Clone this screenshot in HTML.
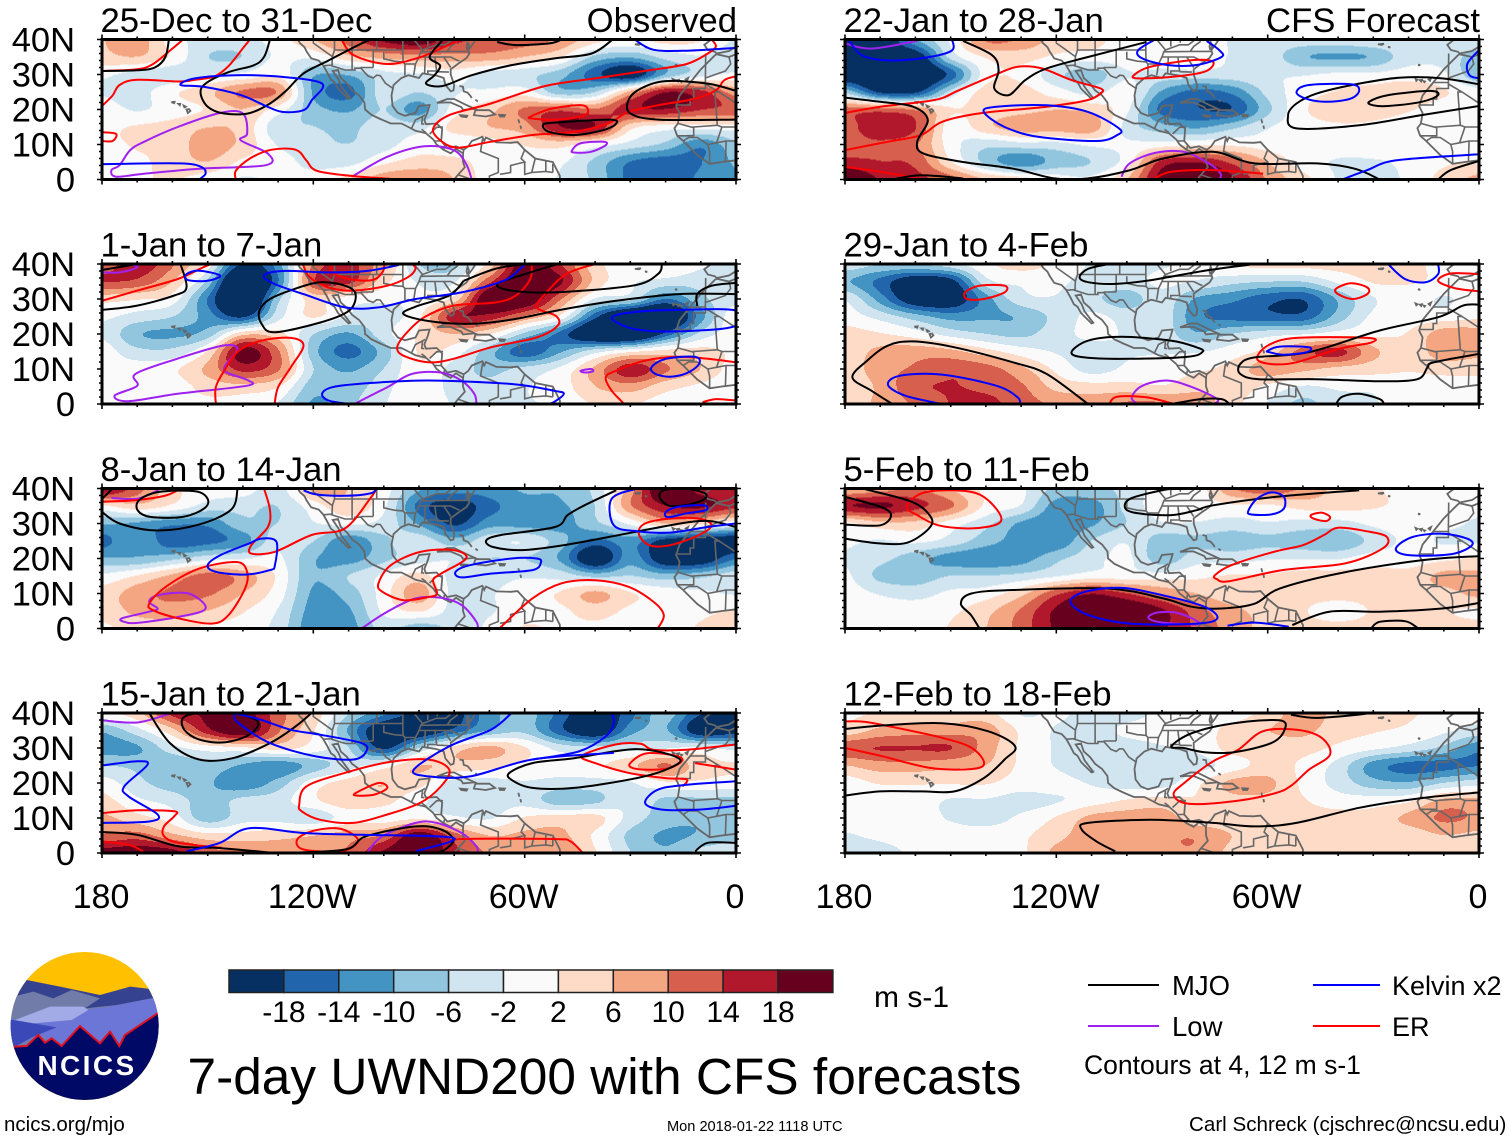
<!DOCTYPE html>
<html lang="en">
<head>
<meta charset="utf-8">
<title>7-day UWND200 with CFS forecasts</title>
<style>
html,body{margin:0;padding:0;background:#fff;}
svg{display:block;font-family:"Liberation Sans",sans-serif;}
</style>
</head>
<body>
<svg id="chart" xmlns="http://www.w3.org/2000/svg" width="1510" height="1141" viewBox="0 0 1510 1141">
  <rect x="0" y="0" width="1510" height="1141" fill="#fff"/>
  <g id="panels"></g>
  <g id="colorbar"></g>
  <text x="874" y="1007" font-size="30">m s-1</text>
  <g>
    <line x1="1088" y1="985" x2="1159" y2="985" stroke="#000" stroke-width="2"/>
    <text x="1172" y="995" font-size="27.5">MJO</text>
    <line x1="1313" y1="985" x2="1380" y2="985" stroke="#0000ff" stroke-width="2"/>
    <text x="1392" y="995" font-size="27">Kelvin x2</text>
    <line x1="1088" y1="1026" x2="1159" y2="1026" stroke="#a020f0" stroke-width="2"/>
    <text x="1172" y="1036" font-size="27.5">Low</text>
    <line x1="1313" y1="1026" x2="1380" y2="1026" stroke="#ff0000" stroke-width="2"/>
    <text x="1392" y="1036" font-size="27">ER</text>
    <text x="1084" y="1074" font-size="26.5">Contours at 4, 12 m s-1</text>
  </g>
  <text x="187.5" y="1094" font-size="51.4">7-day UWND200 with CFS forecasts</text>
  <text x="4" y="1131" font-size="20.5">ncics.org/mjo</text>
  <text x="667" y="1131" font-size="14.6">Mon 2018-01-22 1118 UTC</text>
  <text x="1189" y="1131" font-size="20.6">Carl Schreck (cjschrec@ncsu.edu)</text>
  <g>
    <defs><clipPath id="logoClip"><circle cx="254" cy="258" r="222"/></clipPath></defs>
    <g transform="translate(0,940) scale(0.33333)" clip-path="url(#logoClip)">
      <rect x="20" y="30" width="470" height="460" fill="#ffc000"/>
      <polygon fill="#35428f" points="80,120 180,140 300,165 390,140 480,150 490,320 20,320 45,170"/>
      <polygon fill="#717ca8" points="40,170 100,155 160,175 215,150 300,175 255,205 350,195 480,170 490,330 20,330 25,200"/>
      <polygon fill="#6b76d6" points="25,240 260,210 330,200 480,170 480,215 375,285 360,315 330,275 300,310 240,260 185,315 150,300 120,285 45,320"/>
      <polygon fill="#a3abe6" points="45,240 150,200 250,200 265,210 215,240 100,250"/>
      <polygon fill="#3b48b8" points="25,238 100,250 170,262 100,290 45,320 25,320"/>
      <polygon fill="#000a66" points="42,320 80,318 115,285 135,308 155,295 185,318 240,258 300,310 330,275 358,318 375,285 480,215 490,490 20,490 20,320"/>
      <polyline fill="none" stroke="#e01020" stroke-width="6" points="42,320 80,318 115,285 135,308 155,295 185,318 240,258 300,310 330,275 358,318 375,285 480,215"/>
    </g>
    <text x="87" y="1075" font-size="28" font-weight="bold" fill="#fff" text-anchor="middle" letter-spacing="2.4">NCICS</text>
  </g>
</svg>
<script>
// ---- shared axis data ----
const lonGrid = [180,170,160,150,140,130,120,110,100,90,80,70,60,50,40,30,20,10,0];
const latGrid = [40,35,30,25,20,15,10,5,0];
const xTickValues = [180,120,60,0];
const xTickLabels = ["180","120W","60W","0"];
const yTickValues = [40,30,20,10,0];
const yTickLabels = ["40N","30N","20N","10N","0"];
const bandLevels = [-18,-14,-10,-6,-2,2,6,10,14,18];
const bandColors = ["#053061","#2166ac","#4393c3","#92c5de","#d1e5f0","#fafafa","#fddbc7","#f4a582","#d6604d","#b2182b","#67001f"];

// ---- wind anomaly grids (rows lat 40..0, columns lon 180..0) ----
const wind1 = [
[5,7,0,-3,-3,0,5,10,16,18,13,11,10,8,3,1,3,2,-2],
[4,5,1,-5,-5,-1,-1,4,6,7,7,7,5,2,-6,-8,-4,-2,-4],
[-1,-3,-4,-2,-1,1,-8,-8,-3,-2,0,-3,-4,-7,-14,-19,-8,-3,-1],
[-2,-3,1,4,9,8,-9,-13,-3,-5,-2,-1,0,-7,-5,6,15,13,7],
[0,-2,0,2,5,0,-7,-9,-5,-10,0,4,9,11,9,14,15,12,11],
[1,2,3,5,4,-4,-5,-6,-3,-3,3,5,7,15,15,3,0,0,0],
[1,2,3,7,4,-2,-4,-5,-3,0,-1,0,2,3,0,-3,-6,-11,-6],
[0,1,3,5,1,0,-3,-3,1,3,3,0,0,-1,-6,-12,-14,-12,-8],
[-1,1,2,0,-2,-1,0,3,7,8,5,0,-1,-2,-6,-13,-15,-11,-9]];
const wind2 = [
[10,14,9,0,-16,-10,9,13,6,-5,-6,3,18,12,3,0,2,-1,-4],
[12,11,5,-6,-26,-12,11,13,3,-2,-2,11,20,16,4,-1,-3,-4,-4],
[3,2,0,-12,-26,-6,3,0,-1,-1,3,20,20,9,-2,-4,-12,-6,-3],
[-1,-3,-5,-10,-16,-3,2,-2,-3,1,14,14,8,1,-14,-24,-24,-10,1],
[-2,-8,-9,-7,4,3,-5,-9,-3,2,5,2,-6,-13,-22,-24,-14,-4,0],
[0,-4,-4,2,17,9,-7,-13,-7,2,0,-7,-14,-9,-3,1,3,3,1],
[0,0,1,6,13,9,-5,-9,-5,1,-3,-6,-4,-1,6,14,9,5,0],
[1,0,0,3,4,2,-7,-7,-3,1,-3,-4,-2,0,5,7,3,1,-1],
[1,0,0,1,0,-2,-9,-6,-2,1,-2,-3,-2,-1,2,2,0,0,-1]];
const wind3 = [
[17,10,3,0,0,-3,6,5,0,-8,-10,-10,-8,-8,-4,7,20,14,13],
[1,4,1,-3,-4,-5,0,4,-1,-13,-18,-13,-10,-9,-5,8,15,16,13],
[-8,-9,-11,-11,-6,-5,-2,-1,-3,-9,-16,-10,-10,-10,-6,-1,5,3,-1],
[-13,-9,-14,-13,-10,-3,-5,-11,-6,-3,-7,-3,-2,-7,-13,-10,-17,-19,-19],
[-8,-8,-6,-3,-2,-1,-8,-10,-6,-3,-2,-5,-5,-9,-20,-10,-19,-19,-12],
[-1,2,6,10,7,1,-8,-5,-1,3,-3,-3,-2,-3,-6,-5,-7,-6,-3],
[3,7,9,9,5,0,-9,-7,0,7,-3,-2,0,2,6,2,0,-1,-2],
[3,6,7,5,2,-2,-10,-9,-1,2,-3,-2,0,1,3,1,0,1,2],
[1,3,3,1,0,-3,-11,-10,-4,-7,-4,-1,2,1,1,0,0,2,2]];
const wind4 = [
[1,4,13,16,17,10,4,-5,-11,-17,-17,-10,-7,-13,-20,-13,-7,-15,-17],
[-8,-3,4,14,19,9,2,-9,-20,-20,-14,-8,-6,-14,-20,-10,-8,-19,-17],
[-10,-9,-3,0,1,3,0,-5,-16,-5,3,6,2,-3,-4,-3,-2,-1,-3],
[-5,-6,-8,-6,-9,-11,-7,-3,0,5,4,3,1,0,1,4,9,3,2],
[0,-4,-7,-8,-11,-7,0,3,5,3,-3,-3,-2,-3,-3,-2,1,1,0],
[3,-1,-3,-7,-4,-3,1,4,3,-1,-3,-3,-3,-7,-6,-2,-6,-6,-6],
[6,3,0,-7,-3,-3,-4,0,0,1,-1,-2,2,3,3,-3,-7,-8,-8],
[9,10,6,3,3,4,5,7,9,18,10,5,6,6,1,-6,-9,-8,-6],
[17,18,17,10,9,7,7,9,16,20,13,8,8,8,2,-5,-8,-4,-3]];
const wind5 = [
[-20,-20,-9,-1,9,8,4,3,0,0,0,-2,-3,-3,-3,-2,-2,-2,-3],
[-20,-20,-19,-4,2,3,1,0,0,0,0,-2,-3,-8,-9,-8,-3,-3,-7],
[-20,-22,-22,-14,0,1,-4,-7,-2,-3,-3,-3,-2,-2,-1,-1,0,-1,-8],
[-6,-16,-16,-4,3,3,0,-3,0,-9,-13,-11,-4,0,2,3,4,2,0],
[10,10,8,2,3,4,5,4,-1,-13,-15,-15,-6,1,4,3,2,0,0],
[10,15,12,0,4,7,7,7,-3,-7,-9,-6,-2,0,1,1,0,0,0],
[10,11,9,0,-4,-3,-3,-1,-1,0,1,1,0,0,0,0,-1,-1,-1],
[13,12,11,2,-6,-11,-7,-5,0,13,15,11,5,0,-2,-2,-1,1,2],
[20,15,13,10,5,3,0,-1,5,17,20,16,8,3,-2,-3,-1,3,6]];
const wind6 = [
[-3,-5,-5,-3,1,3,1,-2,-3,-2,-1,2,3,3,3,3,3,0,-2],
[-8,-13,-19,-17,-3,-1,-1,-3,-3,-1,-2,-4,-5,-5,-1,2,2,1,0],
[-2,-10,-19,-19,-10,-3,-2,-4,-7,-3,-9,-11,-14,-15,-8,-2,0,-2,0],
[0,-3,-7,-10,-9,-8,-4,-1,-3,-3,-11,-13,-14,-14,-7,-1,0,0,1],
[3,2,0,-3,-5,-6,-3,-1,-2,-3,-8,-5,-3,-2,0,1,2,7,7],
[3,6,7,6,3,0,-2,-3,-2,-2,-2,0,3,10,13,6,3,7,6],
[3,7,9,11,10,6,1,-3,-1,0,1,3,7,6,4,3,2,3,3],
[2,6,11,12,11,9,4,3,3,2,4,4,1,-2,-1,-1,0,0,0],
[3,6,9,12,13,10,8,7,9,9,7,3,-2,-6,-3,-2,0,0,0]];
const wind7 = [
[5,7,9,5,1,-1,-6,-6,-4,0,0,8,11,8,4,2,1,0,0],
[15,16,13,9,1,-2,-10,-10,-4,0,0,1,1,3,3,2,1,0,-1],
[1,4,4,0,-4,-9,-11,-9,-5,-2,-2,-3,-2,-3,-3,-1,0,-1,-2],
[-1,-2,-1,-3,-7,-10,-11,-5,-2,-7,-6,-7,-6,-7,-8,-4,-1,-2,-2],
[-2,-4,-7,-10,-11,-10,-6,-3,-1,-7,-3,-3,-2,-2,-2,0,0,1,2],
[-1,-6,-7,-5,-5,-4,-2,0,0,0,1,2,2,3,3,3,3,6,6],
[0,-2,-3,-1,0,4,11,15,12,8,5,3,3,3,3,3,4,4,6],
[0,0,0,1,4,9,16,20,20,16,10,6,4,2,0,2,3,2,1],
[0,0,0,2,5,10,16,20,20,16,11,7,4,3,3,3,3,3,3]];
const wind8 = [
[1,2,3,3,3,-2,-1,-3,-3,-1,0,0,3,7,4,3,2,1,-1],
[3,6,7,7,7,1,-2,-3,-1,0,0,3,5,6,3,2,1,-1,-3],
[11,12,12,12,7,1,-2,-3,-3,-2,-1,3,3,3,1,-1,-3,-6,-11],
[5,7,7,6,5,1,-2,-5,-2,-3,-3,0,3,1,-3,-10,-13,-13,-12],
[0,2,2,2,2,0,0,-2,-3,-3,1,6,6,1,-3,-7,-8,-5,-3],
[0,0,0,-2,-2,-3,-2,0,2,3,2,4,4,2,0,0,1,6,6],
[0,0,0,-2,-3,-1,2,6,7,7,3,3,3,3,3,3,6,9,8],
[-2,-1,0,0,0,1,4,7,8,8,8,5,3,3,3,3,3,5,4],
[-3,-3,-1,0,0,1,6,7,8,8,8,4,3,3,3,3,3,2,2]];

// ---- filtered-wave contours: flat [lonW,lat,...]; leading "c" closes the curve ----
const mjo1 = [
[180,31,170,31.2,165,32,162,35,161,40],
[132.3,40,134,35,137,32.6,144,30.7,150.6,27.4,152,24.6,150,20.8,145.5,18.9,138.4,18.9,132.3,21.7,127.6,25.5,122.8,30.3,115.7,34,105,39.5,102,40],
[35,40,41,36,51.5,34.6,63.5,32.7,75,29.8,83.3,26.7,88,27.4,85.6,29.8,84,32.6,87,35,83.5,39.6],
[67.8,39.3,62.5,38.4,53,38.9,49.5,40],
[0,25.3,8,27.4,20,28.1,27,26,30.5,22.7,30,18.9,22,17.1,0,17.1],
["c",54.8,15.5,52,16.2,36,17.1,34,16,37.7,14.1,46,12.7,53,13.6]];
const kelvin1 = [
["c",157.7,27,153.6,28.9,141.8,29.8,128.8,29.3,117.5,27.4,120.4,22.7,122.8,19.8,128.8,19.3,133.5,21,140.6,24.1,151.2,26.5],
[180,4.4,158,4.6,151.8,3.6,150.6,1.7,152.4,0],
[28.8,40,23.5,37.1,14,36.8,0,37.6]];
const low1 = [
["c",177.3,2.7,175,4.1,172,8.4,168,10.8,158.5,15,146.5,19,140,18.9,138.8,13.1,140.6,11.2,132.9,7.4,133.5,4.1,152.4,3.1,167.8,1.7,176,0.8],
[109,0.8,99,6.5,88.5,9.5,80.2,8.4,76.7,4.6,75,0],
["c",46.5,8.4,44.2,10.3,37.6,10.8,37,9.8,41.2,7.9,46,7.7]];
const er1 = [
[180,31,170,31.5,165.5,33,160.5,37,157,40],
[180,21,177,24,175,27,170,28.5,158,28,153.5,28.5,148,29.5,144,32.5,140,37.5,138,40],
[180,13.5,176,13,177,11,180,11],
[142,0,142,2.5,138,6,132,8.5,125,8.5,122,5.5,119,2.5,109,1,95,0],
[6.9,40,5.7,38,8,36,14,33,24.6,31.2,40,28.9,54.2,26.7,69.6,21.7,81.4,18.4,86,14.5,83.8,11.1,79,9.1,69.6,10.8,57.8,12.7,46,13.6,36.4,16,30.5,19.3,22.2,21.2,11.6,23.1,5.7,25.5,3.3,28.4,0,29.5],
["c",58.3,18,52,20.3,43.7,21.2,42,19.3,44.2,18,50.7,17.1,57.7,17.4],
[112,40,108.5,35.5,99,33,89.5,35,82.5,38,78,40]];

const mjo2 = [
[180,26.9,170,28.1,159.5,31,156,33.3,157.7,40],
[180,38.3,170,40],
["c",108,31.4,109.8,26.7,118,23.3,131,20.5,134.7,22.9,135.3,26.7,132.3,30,125.2,32.9,118.1,34.8,111,33.8],
[21,40,22.2,37.1,29.4,33.8,51.8,31.9,63.7,32.4,67.8,34.3,60,37.1,50.6,40],
[77.3,35.2,68.4,38.6,60,40],
[0,31.4,16.3,31.4,34,29.5,49.3,27,63.7,24.1,75.5,22.9,87.4,23.7,94.4,25.7,91,27.8,81.4,31,77.3,35.2],
[0,34.6,6.9,33.8,11,31.4,11,28]];
const kelvin2 = [
["c",156,37.1,152.4,38.1,146.5,36.7,150,35.2,155.6,35.4],
[95.6,40,96.8,39.5,105,38,115.7,37.6,128.8,38,134,36.7,131,34.3,122.8,31.4,111,27.6,101.5,27.6,90.9,30,77.9,31.9,66,35.2,61.3,38.6,60,40],
["c",0,26.7,16.3,26.9,29.4,26.2,35.3,24.6,30.6,21.9,23.5,20.8,10.5,21,0,22.4],
["c",24,10.5,19.9,12.9,11.6,13.5,10.5,11.4,14,8.8,18.7,7.8,22.9,8.6],
[110,0,115.7,1,117.5,2.9,114.6,4.8,105,5.9,87.4,6.7,63.7,5.7,51.8,3.8,48.9,2.9,51.8,0.5,53.6,0]];
const low2 = [
[180,37.6,175,37.6,170,39,172,40],
["c",176.4,2.4,170,5.2,170.5,8.6,158.7,12.9,145.7,16.7,141.5,15.7,145,11,144.5,9,138.4,6.7,139,5.2,158.5,2.9,172.5,0.8],
[108,0.2,99,4.8,92,8.6,83.8,9,78,6.7,74.3,2.9,73.7,0],
["c",44.1,9.5,41.2,10,40.6,9.3,43,9]];
const er2 = [
[180,29.5,170,32.4,158.5,35.7,151.4,39,149,40],
[123,40,121,36.2,115.7,33.3,108.6,32.4,99,33.8,93.2,36.2,91,38.6,92,40],
[114.6,40,114.6,37.6,109.8,35.7,103.3,35.4,100.4,37.6,99.8,40],
[147.7,0,147.7,4.8,145.3,9.5,141.2,15.2,134.7,18.1,126.4,18.9,122.8,16.7,126.4,10.5,130,4.8,131,0],
[58,40,58.4,35.7,62.5,31,68.4,29,80.2,28.1,88.5,24.8,93.8,20,96.2,16.2,94.4,13.8,87.3,11.9,80.2,12.9,69.6,16.2,56.6,19,50.6,22.4,51.2,25.2,56.6,27.6,54.2,31.4,48.3,37.1,40,40],
[31.7,0,35.3,3.8,37,7.6,34.1,9.5,25.8,12.4,16.3,13.5,8,12.9,0,11.9],
[9.5,0.5,5.7,1.4,0,1]];

const mjo3 = [
[180,33.3,175,30,164.4,28,152.5,29.7,143.3,34,141.5,40],
[177,40,179,38,180,37],
["c",169.9,33.8,169.4,36.7,164,39,153.5,39.2,150,37,151,34.3,157,31.9,166.3,31.9],
["c",21.7,37.6,20.5,39.5,14.6,40,8.8,38.6,9.4,36.7,14.6,35.2,19.3,35.2],
[34,39.5,43,35.2,47.8,32.4,51.4,29,66.7,26.7,70.9,25.2,69,23.3,60.8,22.4,49,23.8,31.2,27.1,15.8,30,7.5,30.7,0,29]];
const kelvin3 = [
[122.8,39.5,119,38.3,110.9,37.9,103.8,38.6,102,40],
[0,30,8,29,18.7,27.4,28,27.8,34.7,29.5,35.3,37.1,28,40],
["c",19.9,33.3,16.3,34.8,9.2,35.2,8.6,33.8,14,32.9,19.3,31.8],
["c",150,18.1,146.5,20.9,138.2,24.3,134.7,25.7,130.5,24.8,130.9,18.1,132.3,16.7,139.4,15.4,147.7,16.2],
["c",79.6,16.2,75.5,18.1,63.7,20,56.6,20,55.4,18.9,57.8,16.7,69.6,15.7,77.9,14.6]];
const low3 = [
[177.3,37.3,170,37.1,164,39.5],
["c",174.3,2.9,166.6,4.8,164.2,5.7,166.6,7.6,164.2,9.5,155.4,10,150.6,5.7,158.3,3.3,170,1.6,173.7,1.9],
[106.3,0,99,4.8,90.9,8.6,83.8,8.8,77.9,6.7,73.7,1.9,73.4,0]];
const er3 = [
[134,40,132.3,33.8,132.9,29,137.6,23.8,137.6,21.4,131,21.9,120.5,26.7,111,28.6,103.9,37.1,102,40],
[180,36.2,170,36.7,161.9,38,157.7,40],
["c",166.6,7.1,161.9,11.9,152.4,17.1,141.8,19,138.8,16.2,139.4,11.4,144.1,3.8,148.8,1.4,158.3,2.9,165.4,5.2],
["c",101.5,12.9,98,18.1,89.6,21.9,80.2,22.4,76.6,20,83.7,15.7,86,13.8,84.9,10,87.3,9,94.4,8.1,100.4,10.5],
[67.2,0,57.8,8.6,49.5,12.9,40,13.8,30.5,11.9,23.4,7.6,20.5,3.8,22.2,0],
["c",27.6,27.1,25.8,30,18.7,31.4,10.5,31.4,6.9,29.5,10.5,26.7,18.7,23.8,24.6,23.8]];

const mjo4 = [
[166.6,40,160.7,31.4,152.4,26.7,142.9,27.1,132.3,31.4,125,36.2,120.5,40],
["c",157,38.6,152.4,40,142.9,40,135.8,37.6,138.2,33.8,145.3,31.6,152.4,32.4,156.6,35.2],
[180,6,170,5.2,158.3,1.9,146.5,1.4,131,0],
[128.8,0,111,1,105,4.8,90.9,7.6,83.7,6.7,80.2,3.8,82.6,1,85,0],
["c",64.3,22.9,57.8,25.7,46,27.1,28.2,29.7,16.3,27.1,18.7,24.3,28.2,21.4,46,18.6,57.8,18.6,63.7,20.9],
[11.6,0.5,8,2.9,0,2.9]];
const kelvin4 = [
["c",142.4,39.5,141.2,37.1,132.3,31.4,119.3,27.6,108.6,26.7,105,29,106.3,31.4,118.1,33.8,126.4,35.2,134.7,38,140.6,39.5],
[180,25,170,26.2,167.1,25.2,173.7,19,172.5,16.2,164.2,11,166.6,9,180,8.6],
[156,0.5,146.5,2.9,138.2,7.1,122.8,5.7,106.3,5.2,80.2,4.3,90.9,0.5],
[63.7,40,69.6,35.2,81.4,30.5,91.5,23.8,87.3,21.9,75.5,21.9,57.8,26.7,34.7,28.6],
[35.3,40,34.7,37.1,37,33.3,44.7,29,57.8,26.7],
[0,20.5,14,19.5,22.2,18.1,25.8,14.3,21,12.4,10.5,12.4,0,13.5]];
const low4 = [
[180,37.9,170,37.3,161,39.7],
[104.5,0.5,100.4,4.8,90.9,8.6,85,8.6,77.9,5.7,73.7,1.9,73.4,0]];
const er4 = [
[180,11.4,170,12.2,159.5,11.9,159.5,10.5,162.4,7.6,162.4,4.8,158.3,2.9,146,1.5],
[180,3.3,172.5,2.4,168.4,0.5],
["c",124,13.8,122,19,111,22.9,99,25.9,87.3,26.7,81.4,23.8,83.8,19,89.7,14.3,99,11,108.6,8.6,118,9.5,123.3,11.9],
["c",108,17.1,101.5,20,99,18.6,102.7,16.7,107.5,16.4],
["c",124.6,3.8,120.5,6.2,113.4,7.1,108.6,5.2,107.5,2.9,112.2,0.5,122.8,1],
[80.2,2.9,77.9,4,51.8,4,47,3.3,43.5,0],
[0,31,14,29.5,23.5,29.5,27.1,31.2,34.2,31,43.7,27.8,40,25.7,30.6,22.9,20,21.4,14,21,15.2,19],
["c",30,25.7,25.8,28.4,18.7,28.1,15.2,26.7,18.7,24.3,24.6,23.8,29.4,24.3],
[11.6,25.7,0,23.8]];

const mjo5 = [
[146.5,39.6,138.2,35.5,136.4,31.2,137.6,26,133.5,24.1,128.8,28.4,122.8,31.7,111,35,94.4,39.3],
[180,23.4,170,22.2,160.7,20.8,156.5,17,159.5,10.8,157.7,7.4,146.5,5,132.3,3.1,120.5,0.3,111,0.3,99,2.7,89.7,6,75.5,7.9,63.7,4.6,46,4.6,35.3,3.1,28.2,0],
[0,27.2,10.5,28.9,22.2,29.1,34,27.4,46,24.6,51.8,21.7,54.2,18.4,51.8,14.6,34,15.5,16.3,18.4,0,21],
["c",31.2,22.2,25.8,24.1,14,25.3,11.6,24.1,16.3,22.2,25.8,21,30,21.2],
[11.6,0,8,2.7,0,5.3],
[166.6,0,158.4,1.2,146.5,0.3]];
const kelvin5 = [
[179,40,175,35.4,166.6,34,156,35,149.6,36.9,149.6,40],
[92,40,96.8,36.9,95.6,34.6,88.5,32.7,80.2,32.7,73.1,35,73.7,36.9,77.3,39.6],
["c",140.6,19.3,137,20.8,122.8,21.2,111,19.3,102.2,14.6,102.7,12.7,108.6,11,125.2,12.2,134.7,15],
["c",51.8,25,48.3,27,36.4,27.2,34,25.5,36.4,23.1,43.4,22.2,49.2,23.1],
[0,37,3.3,33.1,2.7,29.8,0,28.9],
[38.8,0,31.7,2.7,23.4,5.5,0,7.2]];
const low5 = [
[180,38.9,172.5,37.4,159.5,39.6],
[101.5,0.8,99.2,4.6,92,7.6,83.8,7.9,76.7,4.6,73.4,1.7,73.7,0]];
const er5 = [
[180,19,170,20.8,154.6,22.7,147.7,25.5,137.6,29.8,131,32.2,124,31.7,115.7,28.4,107.4,26,107.4,24.6,109.8,23.1],
[180,8.4,167.8,10.8,158.4,12.7,152.4,16.5,141.8,18.9,122.8,20.8,111,22.7,106.9,25],
["c",98,29.8,93.3,32.2,81.4,34.1,75.5,33.6,77.9,30.8,87.3,29.3,96.8,28.9],
[180,3.6,170,2.2,159.5,0.3],
[92.1,0.3,87.3,2.2,75.5,2.7,61.3,1.7]];

const mjo6 = [
[63.7,40,77.9,38.1,94.4,35.2,103.9,34.3,111,34.8,113.4,36.2,111,38.6,105,40],
[166.6,0,172.5,3.8,177.9,7.6,173.7,12.4,167.8,16.7,160.7,17.9,148.9,16.2,132.3,11.9,122.8,8.6,111,0],
["c",115.7,14.8,111,18.1,101.5,19.2,87.3,18.1,80.2,16.2,78.4,15,82.6,13.5,99,12.9,112,13.3],
[0,28.4,4.5,28.1,11.6,24.8,28.2,21,48.3,14.8,63.7,13.3,67.8,11.4,67.8,8.6,62.5,7.1,46,7.1,28.2,6.5,17.5,7.1,14.6,10.5,12.8,11.9,0,14.3],
[87.3,0,79,1.4,73.1,1.4,70.8,0],
[40.6,0,38.8,2.1,34,2.9,28.2,1.4,27,0]];
const kelvin6 = [
[153.5,0.2,163,2.4,167.8,5.5,164.3,8.1,152.4,8.4,137,5.2,131,1.9,130.3,0],
[25.8,40,21,35.7,15.2,34.8,11.6,37.1,11.6,40],
["c",60,15.2,56.6,16.4,48.3,16.2,48.9,14.8,55.4,14.1,59.5,14.8]];
const low6 = [
[75.5,0,74.3,1.4,81.4,4.8,88.5,6.7,95.6,5.2,98.6,1.9,97,0]];
const er6 = [
["c",145.9,31.9,141.8,33.8,134.7,33.8,134.7,31.9,140.6,30,145.3,30],
["c",40.6,32.9,36.4,34.5,31.7,33.3,31.7,31.4,35.9,30,40,31.4],
[0,37.1,8,37.3,11.6,35.2,6.9,33.1,0,32.2],
["c",63,12.9,60,16.7,51.8,18.9,31.7,18.9,30.5,17.6,40,15.7,51.8,11.9,58.9,11.4],
[105,0,102.7,2.1,94.4,1.9,87.3,0.2]];

const mjo7 = [
[175,40,173,39.5,161,36.2,156,32.4,155.8,29,162.1,24.6,170.2,24.3,180,25.7],
[180,37.6,170,34.8,166.9,32.4,170,29.5,180,29.7],
[34,39.5,57.8,37.6,75.5,35.2,80.2,33.8,87.3,32.4,96.8,32.9,100.4,34.3,99,37.1,90,39.5,86,40],
[141.8,0,144.2,3.8,147.1,7.1,144.1,10,132.3,11,105,11.4,89.7,8.6,81.4,6.2,73.1,5.7,63.7,7.1,56.6,11.4,40,15.7,16.3,19.5,0,20.7],
[53,1,42.5,4.8,28.2,4.8,10.5,5.7,0,7.3],
[30.5,0.2,28.2,1.9,21,2.1,17.5,0.2]];
const kelvin7 = [
["c",65.4,33.8,63,37.1,58.9,38.9,55.4,37.6,55.4,34.3,58.9,32.6,64.8,32.6],
["c",116,7.6,111.9,10.5,101.5,11.6,89.7,9.5,77.9,6.2,74.3,2.9,80.2,1.4,99,1.4,110.8,3.8],
["c",23.4,23.3,18.7,26.2,10.5,27.1,3.4,25.7,2,23.8,7,21.4,16.3,20.8,22.2,21.4],
[71.4,0.8,63.7,1.7,54,0.5]];
const low7 = [
["c",93.9,3.3,91,4.6,85,4.3,79.3,1.4,86.2,1.4,92,2.1]];
const er7 = [
["c",162.5,34.8,158.3,38.6,150,39.5,141.8,38.3,136.4,33.3,136.4,30,144.1,28.6,153.5,29.5,159.5,32.4],
["c",47.7,32.4,44.7,33.1,42.3,31.9,43.5,30.7,47,31.4],
["c",75,15.2,70.3,18.1,58.3,21.9,50,23.8,44,26.7,40,28.8,32,27.8,26.2,26.2,27.3,22.9,38,18.6,55.8,16.7,71,13.5,74.4,14.1]];

const mjo8 = [
[180,35.4,170,36.4,152.4,37.1,139.4,34.8,131.7,30.5,134.7,26.7,140.6,21.4,148.9,17.6,158.3,17.6,170,17.6,180,16.4],
["c",87.3,30.5,81.4,34.3,69.6,37.1,56.6,37.9,55.2,35.2,59,31.4,69.6,28.8,77.9,28.8,83.8,30],
[53.4,39.5,46.3,38.6,34.5,39.5,31,40],
[103.3,0.5,108.6,3.3,112.8,6.7,111,8.6,93.3,9.5,75.5,8.6,63.7,7.6,51.8,8.6,34,12.9,16.3,15.7,0,17.3]];
const kelvin8 = [];
const low8 = [];
const er8 = [
[180,30,170,27.8,155.8,24.3,144,24,140.5,25.7,144,30,152.4,32.9,170,36.7,176,37.6,180,37.6],
["c",86.7,16.7,83.7,20,75.5,26.2,68.4,29.5,61.3,34.8,51.8,35.2,44.7,32.9,42.3,28.1,48.3,23.8,53,19.5,57.8,17.1,69.6,14.8,82.6,14.1]];

// ---- geography [lonW,lat,...] ----
const coastlines = [
[124.4,40,123.8,39,122.5,37.8,121.9,36.6,120.6,34.6,118.5,34,117.2,32.6,116,30.5,115,28.5,114,27.8,113,26,112,25,110,23,109.5,23.2,110.5,24.5,112,26.5,112.8,28.5,114.5,31,113,31.3,112.2,29,110.5,27.5,109,25.5,107,24,105.5,22,105.3,20,103.5,18.5,101,17.3,98,16,95,16,93,15,91,13.9,88,13.2,86,11.5,85,10,83,8.5,81,7.5,79.5,8.8,77.5,7.5,77.5,5,77,3.5,78.8,1.5,80,0],
[77.3,8.5,79.5,9.5,82,9,83.7,11,83.4,14.5,85,16,88,15.8,88.5,17,87.5,19.5,87,21.3,90,21,91,19,94,18.2,96,19,97.5,21,97.8,24,97.2,27,95,29,93,29.8,90,29,89,30.3,85,29.7,83,29,82.5,27,81,25.2,80.2,25.5,80,27,81,30,81,31.5,79,33,76.5,34.7,75.7,36,76,37,75.2,38,74,39.8,74,40],
[76.3,37,76.5,38,76.2,39.3,75.8,38.2,76,37.2],
[77.3,8.5,76,9.5,75,11,72,12.2,71.5,11,71,12,68,10.6,64,10.5,62,10.7,60,8.5,57,6,52,5,50,1,50,0],
[7,40,9,38.5,8,37,6,36.5,5.5,36,2,36.7,0,38,0,39.5],
[0,35.8,2,35,5.5,35.8,6,35.5,10,31.5,13,27.7,16,24,17,21,16,19,16.5,16,17.5,14.7,16.7,12.5,15,11,13,9,11,7,7.5,4.5,4,5,0,5.5],
["c",84.9,21.9,82,23,80,23,77,21.5,74.2,20.2,77.5,19.9,78,20.7,81,22,83,22],
["c",74.4,18.4,74,19.8,70,19.8,68.4,18.6,71,18],
["c",78.3,18.4,76.3,18.2,76.5,17.8,78,18],
["c",67.2,18.5,65.6,18.4,65.8,18,67,18],
[78.5,26.7,77.5,26.5,77.3,25.2,76.2,24.8,75.5,24,75,23.3],
[74,22.8,73.3,22.3],
[61.8,17.2,61.5,16.1],
[61.2,15.4,61,14.5],
["c",160.3,22.1,159.4,22.2,159.5,21.8],
["c",158.3,21.6,157.8,21.6,157.9,21.2],
["c",156.8,21.1,156.2,20.8,156.6,20.6],
["c",156,20,155.3,20.1,154.9,19.6,155.6,19],
["c",18,28.7,17.5,28.5,17.8,28.2],
["c",16.8,28.4,16.2,28.5,16.4,28],
["c",15.7,28.1,15.3,28,15.5,27.8],
["c",14.3,28.6,13.6,29,13.9,28.2],
["c",17.3,32.8,16.7,32.7,17,32.6],
["c",28.7,38.6,27,38.8,27.5,38.5],
["c",25.8,37.9,25.2,37.8,25.5,37.7]];
const borders = [
[120,40,120,39,114.6,35.1,114.7,32.7],
[114,40,114,37,114.6,35.1],
[109,40,109,31.3],
[114,37,94.6,37],
[102,40,102,37],
[103,37,103,32],
[106.6,32,103,32],
[100,36.5,100,34.5,97,33.8,94.5,33.6],
[94.6,40,94.6,36.5,94.5,33.6,94,33,94,29.7],
[94,33,91,33,90,35,89.5,36.5,89,37,91.5,40],
[89.5,36.5,82,36.6,75.9,36.6],
[90,35,83,35,81,35,79,34,78.5,33.9],
[88.2,35,88.4,30.3],
[85.5,35,85,31,87.5,31,87.5,30.3],
[85,30.8,81.5,30.7],
[83,35,81,32],
[84.8,39.1,84.8,40],
[87.5,38,87.5,40],
[89,37,85,38.5,82.5,38.5,80.5,40],
[82,36.6,81,38,79,39.5],
[91,33,91.5,29.8],
[117.1,32.5,114.7,32.7,114.8,32.5,111,31.3,108.2,31.3,108.2,31.8,106.5,31.8,104.5,29.6,103,29,102,29.8,101,29.7,99.5,27.5,97.2,25.9],
[92.2,14.5,91,17,89,18,88.3,18.5],
[89,18,89.2,15.9,88.5,15.8],
[89.3,14.3,88,13.4],
[87,13,85,14.9,83.2,15],
[85.7,11,83.7,11],
[83,8.5,82.8,9.6],
[77.3,8.5,77.5,7.2],
[72,11.5,72.5,8,70,7,67.5,6,67.5,2,70,1,70,0],
[79,1.4,75,0],
[60,8.5,61,6,60,5,64,4,64,2,67,1.5],
[60,5,60,1.5,58,2,54,2.3,52,2],
[57,6,58,2],
[54,5.5,54,2.3],
[52,4.5,52,2],
[13,27.7,8.7,27.7,8.7,26,12,26,12,23,13,23,13,21.3,17,21.3],
[8.7,27.3,4.8,25,0,21.8],
[4.8,25,6,25,5.3,15.5,12,15,12.5,15],
[16.4,16,12,14.8,12,12.5,16.7,12.5],
[15,11,13.5,12,11,12,8,10,7.5,8,7.5,4.5],
[3,5,2.8,11,0,11],
[5.5,10.5,2.8,11],
[5.3,15.5,4,15,0,15],
[8,10,5.5,10.5,4,15],
[8.6,36,8.7,29,8.7,27.7],
[2,35,1.5,33,3,31,8.7,29]];

// ---- panel configuration ----
const panelTitles = ["25-Dec to 31-Dec","1-Jan to 7-Jan","8-Jan to 14-Jan","15-Jan to 21-Jan","22-Jan to 28-Jan","29-Jan to 4-Feb","5-Feb to 11-Feb","12-Feb to 18-Feb"];
const panelWinds = [wind1,wind2,wind3,wind4,wind5,wind6,wind7,wind8];
const panelMjo = [mjo1,mjo2,mjo3,mjo4,mjo5,mjo6,mjo7,mjo8];
const panelKelvin = [kelvin1,kelvin2,kelvin3,kelvin4,kelvin5,kelvin6,kelvin7,kelvin8];
const panelLow = [low1,low2,low3,low4,low5,low6,low7,low8];
const panelEr = [er1,er2,er3,er4,er5,er6,er7,er8];

const NS = "http://www.w3.org/2000/svg";
const PW = 634, PH = 140;
const colX = [102, 845];
const rowY = [39.5, 264, 488.5, 713];
const fieldScale = 1.18;

function mk(tag, attrs, parent){
  const e = document.createElementNS(NS, tag);
  for (const k in attrs) e.setAttribute(k, attrs[k]);
  if (parent) parent.appendChild(e);
  return e;
}
function xScale(lonW){ return (180 - lonW) / 180 * PW; }
function yScale(lat){ return PH - lat / 40 * PH; }
function cr(a,b,c,d,t){
  return 0.5*((2*b)+(-a+c)*t+(2*a-5*b+4*c-d)*t*t+(-a+3*b-3*c+d)*t*t*t);
}
function bandOf(v){
  let i = 0;
  while (i < bandLevels.length && v >= bandLevels[i]) i++;
  return i;
}
function drawField(g, grid){
  const nr = grid.length, nc = grid[0].length;
  for (let py = 0; py < PH; py++){
    const v = (py + 0.5) / PH * (nr - 1);
    const r = Math.min(nr - 2, Math.floor(v)), tv = v - r;
    const column = [];
    for (let c = 0; c < nc; c++){
      column.push(cr(grid[Math.max(0,r-1)][c], grid[r][c], grid[r+1][c], grid[Math.min(nr-1,r+2)][c], tv));
    }
    let start = 0, cur = -1;
    for (let px = 0; px <= PW; px++){
      let b = -2;
      if (px < PW){
        const u = (px + 0.5) / PW * (nc - 1);
        const k = Math.min(nc - 2, Math.floor(u)), tu = u - k;
        b = bandOf(fieldScale * cr(column[Math.max(0,k-1)], column[k], column[k+1], column[Math.min(nc-1,k+2)], tu));
      }
      if (b !== cur){
        if (cur >= 0){
          const cell = mk("rect", {x:start, y:py, width:px-start, height:1, fill:bandColors[cur]}, g);
          
          
        }
        start = px; cur = b;
      }
    }
  }
}
function points(flat){
  const closed = flat[0] === "c";
  const s = closed ? 1 : 0, pts = [];
  for (let i = s; i + 1 < flat.length; i += 2) pts.push([xScale(flat[i]), yScale(flat[i+1])]);
  return {pts, closed};
}
function smoothPath(flat){
  const {pts, closed} = points(flat);
  const n = pts.length;
  const at = i => closed ? pts[(i + n) % n] : pts[Math.max(0, Math.min(n - 1, i))];
  let d = "M" + pts[0][0].toFixed(1) + " " + pts[0][1].toFixed(1);
  const last = closed ? n : n - 1;
  for (let i = 0; i < last; i++){
    const p0 = at(i-1), p1 = at(i), p2 = at(i+1), p3 = at(i+2);
    d += "C" + (p1[0]+(p2[0]-p0[0])/6).toFixed(1) + " " + (p1[1]+(p2[1]-p0[1])/6).toFixed(1) + " " +
         (p2[0]-(p3[0]-p1[0])/6).toFixed(1) + " " + (p2[1]-(p3[1]-p1[1])/6).toFixed(1) + " " +
         p2[0].toFixed(1) + " " + p2[1].toFixed(1);
  }
  return d + (closed ? "Z" : "");
}
function straightPath(list){
  let d = "";
  list.forEach(function(flat){
    const {pts, closed} = points(flat);
    pts.forEach(function(p, i){ d += (i ? "L" : "M") + p[0].toFixed(1) + " " + p[1].toFixed(1); });
    if (closed) d += "Z";
  });
  return d;
}

const root = document.getElementById("panels");
const defs = mk("defs", {}, root);
const clip = mk("clipPath", {id:"panelClip"}, defs);
mk("rect", {x:0, y:0, width:PW, height:PH}, clip);

panelTitles.forEach(function(title, idx){
  const col = idx < 4 ? 0 : 1, row = idx % 4;
  const g = mk("g", {transform:"translate(" + colX[col] + "," + rowY[row] + ")"}, root);
  
  

  const field = mk("g", {"shape-rendering":"crispEdges"}, g);
  
  
  drawField(field, panelWinds[idx]);

  const clipped = mk("g", {"clip-path":"url(#panelClip)", fill:"none"}, g);
  
  

  const coast = mk("path", {d:straightPath(coastlines), stroke:"#666", "stroke-width":1.8}, clipped);
  
  
  const bord = mk("path", {d:straightPath(borders), stroke:"#666", "stroke-width":1.6}, clipped);
  
  

  panelLow[idx].forEach(function(c){
    const p = mk("path", {d:smoothPath(c), stroke:"#a020f0", "stroke-width":2}, clipped);
    
    
  });
  panelEr[idx].forEach(function(c){
    const p = mk("path", {d:smoothPath(c), stroke:"#ff0000", "stroke-width":2}, clipped);
    
    
  });
  panelMjo[idx].forEach(function(c){
    const p = mk("path", {d:smoothPath(c), stroke:"#000", "stroke-width":2}, clipped);
    
    
  });
  panelKelvin[idx].forEach(function(c){
    const p = mk("path", {d:smoothPath(c), stroke:"#0000ff", "stroke-width":2}, clipped);
    
    
  });

  // minor + major ticks
  let tickD = "";
  for (let lon = 0; lon <= 180; lon += 10){
    const x = xScale(lon).toFixed(1), len = lon % 60 === 0 ? 5 : 3;
    tickD += "M" + x + " 0V" + (-len) + "M" + x + " " + PH + "V" + (PH + len);
  }
  for (let lat = 0; lat <= 40; lat += 2){
    const y = yScale(lat).toFixed(1), len = lat % 10 === 0 ? 5 : 3;
    tickD += "M0 " + y + "H" + (-len) + "M" + PW + " " + y + "H" + (PW + len);
  }
  const ticks = mk("path", {d:tickD, stroke:"#000", "stroke-width":1.6, fill:"none"}, g);
  
  

  const frame = mk("rect", {x:0, y:0, width:PW, height:PH, fill:"none", stroke:"#000", "stroke-width":3}, g);
  
  

  const t = mk("text", {x:-1.5, y:-7.5, "font-size":34.7}, g);
  
  
  t.textContent = title;

  if (idx === 0 || idx === 4){
    const rt = mk("text", {x:PW + 1, y:-7.5, "font-size":34.7, "text-anchor":"end"}, g);
    
    
    rt.textContent = idx === 0 ? "Observed" : "CFS Forecast";
  }
  if (col === 0){
    yTickValues.forEach(function(v, i){
      const l = mk("text", {x:-27, y:(yScale(v) + 12).toFixed(1), "font-size":34.5, "text-anchor":"end"}, g);
      
      
      l.textContent = yTickLabels[i];
    });
  }
  if (row === 3){
    xTickValues.forEach(function(v, i){
      const l = mk("text", {x:(xScale(v) - 1).toFixed(1), y:PH + 55, "font-size":34, "text-anchor":"middle"}, g);
      
      
      l.textContent = xTickLabels[i];
    });
  }
});

// ---- colorbar ----
const cb = document.getElementById("colorbar");
const cbX = 229, cbW = 54.9, cbY = 970, cbH = 22.5;
bandColors.forEach(function(col, i){
  const r = mk("rect", {x:cbX + i*cbW, y:cbY, width:cbW, height:cbH, fill:col, stroke:"#222", "stroke-width":1.5}, cb);
  
  
});
bandLevels.forEach(function(v, i){
  const l = mk("text", {x:cbX + (i+1)*cbW, y:1022, "font-size":30, "text-anchor":"middle"}, cb);
  
  
  l.textContent = String(v);
});
</script>
</body>
</html>
